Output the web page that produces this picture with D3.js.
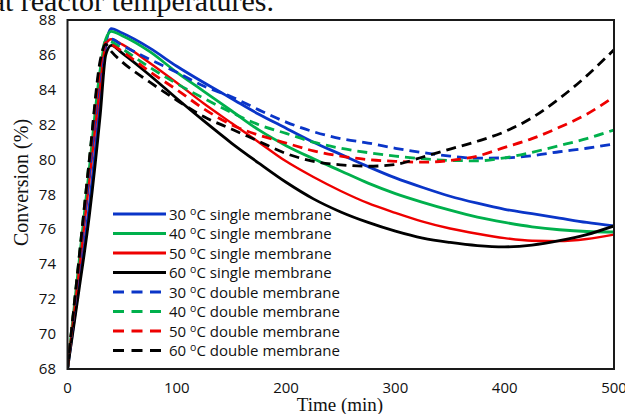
<!DOCTYPE html>
<html>
<head>
<meta charset="utf-8">
<script src="https://cdn.jsdelivr.net/npm/d3@7"></script>
<style>
body{margin:0;background:#fff;}
svg{display:block;}
</style>
</head>
<body>
<svg id="chart" width="625" height="414"></svg>
<script>
// time grid (min)
var times = [0,10,20,30,35,40,50,75,100,125,150,175,200,225,250,275,300,325,350,375,400,425,450,475,500];
// conversion (%)
var single30 = [68,72.6,77.4,83.4,86.5,87.5,87.25,86.4,85.35,84.4,83.5,82.6,81.8,81.0,80.3,79.6,78.95,78.4,77.9,77.5,77.15,76.9,76.65,76.4,76.2];
var single40 = [68,73.8,79.5,85.2,86.9,87.35,87.1,86.2,85.0,83.9,82.8,81.7,80.8,80.05,79.35,78.65,78.05,77.55,77.1,76.7,76.4,76.15,75.98,75.88,75.85];
var single50 = [68,73.3,78.8,84.3,86.6,86.9,86.6,85.55,84.4,83.2,82.1,81.0,79.9,79.0,78.2,77.5,76.95,76.45,76.05,75.75,75.5,75.35,75.33,75.45,75.7];
var single60 = [68,72.3,76.8,82.6,86.0,86.55,86.1,84.85,83.5,82.2,80.95,79.8,78.7,77.75,77.0,76.4,75.9,75.5,75.25,75.07,75.0,75.1,75.35,75.7,76.2];
var double30 = [68,73.5,79.2,84.9,86.7,86.9,86.55,85.75,85.0,84.2,83.6,82.85,82.15,81.6,81.2,80.95,80.65,80.4,80.2,80.08,80.1,80.22,80.45,80.65,80.9];
var double40 = [68,74,80,85.5,86.8,86.75,86.35,85.3,84.35,83.5,82.7,82.0,81.5,81.0,80.65,80.4,80.2,80.05,79.95,79.93,80.1,80.42,80.8,81.2,81.7];
var double50 = [68,73.8,79.8,85.3,86.7,86.6,86.2,85.05,84.0,82.9,82.0,81.4,80.95,80.5,80.2,80.0,79.9,79.85,79.95,80.2,80.7,81.2,81.85,82.6,83.6];
var double60 = [68,74,80,85.7,86.6,86.2,85.6,84.45,83.4,82.45,81.75,81.05,80.35,79.9,79.7,79.62,79.72,80.15,80.6,81.05,81.6,82.4,83.5,84.8,86.3];

var xTicks = [0,100,200,300,400,500];
var yTicks = [68,70,72,74,76,78,80,82,84,86,88];
var temps = ["30","40","50","60","30","40","50","60"];
var kinds = ["single membrane","single membrane","single membrane","single membrane",
             "double membrane","double membrane","double membrane","double membrane"];

var colors = ["#0a35c8","#00b04c","#ee0000","#000000","#0a35c8","#00b04c","#ee0000","#000000"];
var seriesVals = [single30,single40,single50,single60,double30,double40,double50,double60];

var svg = d3.select("#chart");
var plotL = 67.5, plotR = 614, plotT = 20, plotB = 369;

var x = d3.scaleLinear().domain([0,500]).range([plotL,plotR]);
var y = d3.scaleLinear().domain([68,88]).range([plotB,plotT]);

// title remnant at the top
svg.append("text")
	.attr("x",274).attr("y",11)
	.attr("text-anchor","end")
	.style("font-family","Liberation Serif")
	.style("font-size","30px")
	.style("fill","#111")
	.text("at reactor temperatures.");

svg.append("clipPath").attr("id","plotclip")
	.append("rect").attr("x",plotL).attr("y",plotT-2).attr("width",plotR-plotL).attr("height",plotB-plotT+2);

var line = d3.line()
	.x(function(d,i){ return x(times[i]); })
	.y(function(d){ return y(d); })
	.curve(d3.curveMonotoneX);

var g = svg.append("g").attr("clip-path","url(#plotclip)");
// solid first, dashed on top
[0,1,2,3,4,5,6,7].forEach(function(k){
	g.append("path")
		.attr("d",line(seriesVals[k]))
		.attr("fill","none")
		.attr("stroke",colors[k])
		.attr("stroke-width", k==2 ? 2.4 : 2.8)
		.attr("stroke-linejoin","round")
		.attr("stroke-dasharray", k>=4 ? "10,6" : null);
});

// frame
svg.append("rect")
	.attr("x",plotL).attr("y",plotT)
	.attr("width",plotR-plotL).attr("height",plotB-plotT)
	.attr("fill","none").attr("stroke","#1a1a1a").attr("stroke-width",2);

// y tick labels
svg.append("g").selectAll("text").data(yTicks).enter().append("text")
	.attr("x",56).attr("y",function(d){ return y(d)+5; })
	.attr("text-anchor","end")
	.style("font-family","Open Sans")
	.style("font-size","15px")
	.style("fill","#111")
	.text(function(d){ return d; });

// x tick labels
svg.append("g").selectAll("text").data(xTicks).enter().append("text")
	.attr("x",function(d){ return x(d); }).attr("y",393)
	.attr("text-anchor","middle")
	.style("font-family","Open Sans")
	.style("font-size","15px")
	.style("fill","#111")
	.text(function(d){ return d; });

// axis titles
svg.append("text")
	.attr("transform","translate(28,"+((plotT+plotB)/2-12)+") rotate(-90)")
	.attr("text-anchor","middle")
	.style("font-family","Liberation Serif")
	.style("font-size","20px")
	.style("fill","#111")
	.text("Conversion (%)");

svg.append("text")
	.attr("x",340).attr("y",411)
	.attr("text-anchor","middle")
	.style("font-family","Liberation Serif")
	.style("font-size","19px")
	.style("fill","#111")
	.text("Time (min)");

// legend
var leg = svg.append("g");
var rowY = d3.scaleLinear().domain([0,7]).range([214,350.5]);
temps.forEach(function(t,i){
	var yy = rowY(i);
	leg.append("line")
		.attr("x1",113).attr("x2",166).attr("y1",yy).attr("y2",yy)
		.attr("stroke",colors[i]).attr("stroke-width",3)
		.attr("stroke-dasharray", i>=4 ? "11,7.5" : null);
	var tx = leg.append("text")
		.attr("x",169).attr("y",yy+5.5)
		.style("font-family","Open Sans")
		.style("font-size","15px")
		.style("fill","#111");
	tx.append("tspan").text(t+" ");
	tx.append("tspan").attr("dy",-5).style("font-size","10.5px").text("o");
	tx.append("tspan").attr("dy",5).text("C "+kinds[i]);
});
</script>
</body>
</html>
